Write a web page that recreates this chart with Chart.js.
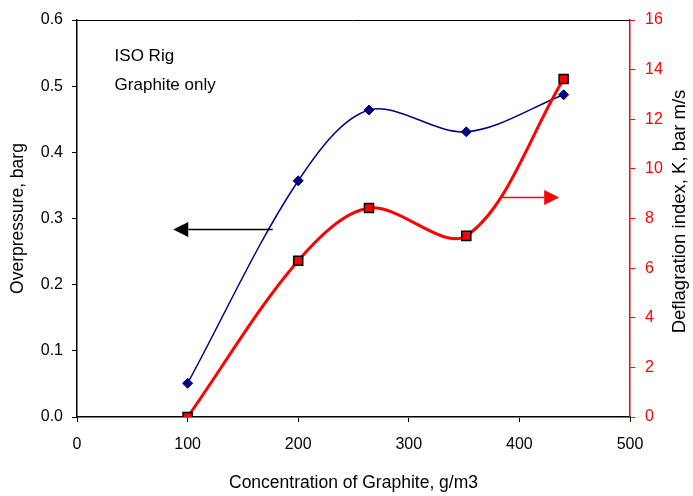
<!DOCTYPE html>
<html>
<head>
<meta charset="utf-8">
<script src="https://cdn.jsdelivr.net/npm/chart.js@4/dist/chart.umd.min.js"></script>
<style>
  html, body { margin: 0; padding: 0; background: #fff; }
  #wrap { width: 693px; height: 496px; }
</style>
</head>
<body>
<div id="wrap"><canvas id="chart"></canvas></div>
<script>
// Concentration of graphite, g/m3
const concentration = [100, 200, 264, 352, 440];
// Overpressure, barg (left axis)
const overpressure = [0.051, 0.357, 0.464, 0.431, 0.487];
// Deflagration index K, bar m/s (right axis)
const deflagration = [0, 6.3, 8.42, 7.3, 13.62];

const xTicks = [0, 100, 200, 300, 400, 500];
const notes = ["ISO Rig", "Graphite only"];
const rightTitle = "Deflagration index, K, bar m/s";

// arrows pointing at the axis each curve belongs to (data units)
const arrowLeft = { from: 177, to: 87, y: 0.284, axis: "y", color: "#000000" };
const arrowRight = { from: 385, to: 436, y: 8.87, axis: "y1", color: "#ff0000" };

const FONT = "'Liberation Sans', Arial, sans-serif";

function pairs(xs, ys) {
    return xs.map((x, i) => ({ x: x, y: ys[i] }));
}

// Draw the border on top, the arrows, the text notes and the right title
const extras = {
    id: "extras",
    afterDatasetsDraw(chart) {
        const ctx = chart.ctx;
        const area = chart.chartArea;
        const sx = chart.scales.x;

        ctx.save();
        ctx.strokeStyle = "#000";
        ctx.lineWidth = 1;
        ctx.beginPath();
        ctx.moveTo(area.left, area.top + 0.5);
        ctx.lineTo(area.right, area.top + 0.5);
        ctx.stroke();

        [arrowLeft, arrowRight].forEach(a => {
            const sy = chart.scales[a.axis];
            const x0 = sx.getPixelForValue(a.from);
            const x1 = sx.getPixelForValue(a.to);
            const y = Math.round(sy.getPixelForValue(a.y)) + 0.5;
            const dir = x1 > x0 ? 1 : -1;
            const headLen = 15, headHalf = 7.5;
            ctx.strokeStyle = a.color;
            ctx.fillStyle = a.color;
            ctx.lineWidth = 1.5;
            ctx.beginPath();
            ctx.moveTo(x0, y);
            ctx.lineTo(x1 - dir * headLen, y);
            ctx.stroke();
            ctx.beginPath();
            ctx.moveTo(x1, y);
            ctx.lineTo(x1 - dir * headLen, y - headHalf);
            ctx.lineTo(x1 - dir * headLen, y + headHalf);
            ctx.closePath();
            ctx.fill();
        });

        const sy = chart.scales.y;
        ctx.fillStyle = "#000";
        ctx.font = "17px " + FONT;
        ctx.textBaseline = "middle";
        ctx.textAlign = "left";
        ctx.fillText(notes[0], sx.getPixelForValue(34), sy.getPixelForValue(0.545));
        ctx.fillText(notes[1], sx.getPixelForValue(34), sy.getPixelForValue(0.502));

        // right axis title reads bottom to top
        ctx.font = "18.5px " + FONT;
        ctx.textAlign = "center";
        ctx.translate(chart.width - 13, (area.top + area.bottom) / 2 - 7);
        ctx.rotate(-Math.PI / 2);
        ctx.fillText(rightTitle, 0, 0);
        ctx.restore();
    }
};

document.addEventListener("DOMContentLoaded", function () {
    const ctx = document.getElementById("chart").getContext("2d");

    new Chart(ctx, {
        type: "scatter",
        data: {
            datasets: [
                {
                    label: "Overpressure",
                    data: pairs(concentration, overpressure),
                    yAxisID: "y",
                    showLine: true,
                    tension: 0.33,
                    borderColor: "#000080",
                    borderWidth: 1.5,
                    pointStyle: "rectRot",
                    pointRadius: 5,
                    pointBackgroundColor: "#000080",
                    pointBorderColor: "#000080",
                    pointBorderWidth: 1,
                    order: 2
                },
                {
                    label: "Deflagration index",
                    data: pairs(concentration, deflagration),
                    yAxisID: "y1",
                    showLine: true,
                    tension: 0.33,
                    borderColor: "#ff0000",
                    borderWidth: 3,
                    pointStyle: "rect",
                    pointRadius: 6.4,
                    pointBackgroundColor: "#ff0000",
                    pointBorderColor: "#000000",
                    pointBorderWidth: 1.5,
                    order: 1
                }
            ]
        },
        options: {
            responsive: true,
            maintainAspectRatio: false,
            animation: false,
            events: [],
            layout: { padding: { top: 20, left: 0, right: 0, bottom: 0 } },
            plugins: {
                legend: { display: false },
                tooltip: { enabled: false }
            },
            scales: {
                x: {
                    type: "linear",
                    min: 0,
                    max: 500,
                    afterBuildTicks: s => { s.ticks = xTicks.map(v => ({ value: v })); },
                    afterFit: s => { s.height = 79; },
                    border: { color: "#000", width: 1.5 },
                    grid: { drawOnChartArea: false, tickLength: 5, color: "#000" },
                    ticks: { color: "#000", padding: 13, font: { family: FONT, size: 16 } },
                    title: {
                        display: true,
                        text: "Concentration of Graphite, g/m3",
                        color: "#000",
                        font: { family: FONT, size: 17.5, lineHeight: 1.2 },
                        padding: { top: 0, bottom: 2.5 }
                    }
                },
                y: {
                    position: "left",
                    min: 0,
                    max: 0.6,
                    ticks: {
                        stepSize: 0.1,
                        color: "#000",
                        padding: 9,
                        font: { family: FONT, size: 16 },
                        callback: v => v.toFixed(1)
                    },
                    afterFit: s => { s.width = 77; },
                    border: { color: "#000", width: 1.5 },
                    grid: { drawOnChartArea: false, tickLength: 5, color: "#000" },
                    title: {
                        display: true,
                        text: "Overpressure, barg",
                        color: "#000",
                        font: { family: FONT, size: 17.5, lineHeight: 1.2 },
                        padding: { top: 8, bottom: 0 }
                    }
                },
                y1: {
                    position: "right",
                    min: 0,
                    max: 16,
                    ticks: {
                        stepSize: 2,
                        color: "#ff0000",
                        padding: 10,
                        font: { family: FONT, size: 16 }
                    },
                    afterFit: s => { s.width = 63; },
                    border: { color: "#ff0000", width: 1.5 },
                    grid: { drawOnChartArea: false, tickLength: 5, color: "#ff0000" },
                    title: { display: false }
                }
            }
        },
        plugins: [extras]
    });
});
</script>
</body>
</html>
